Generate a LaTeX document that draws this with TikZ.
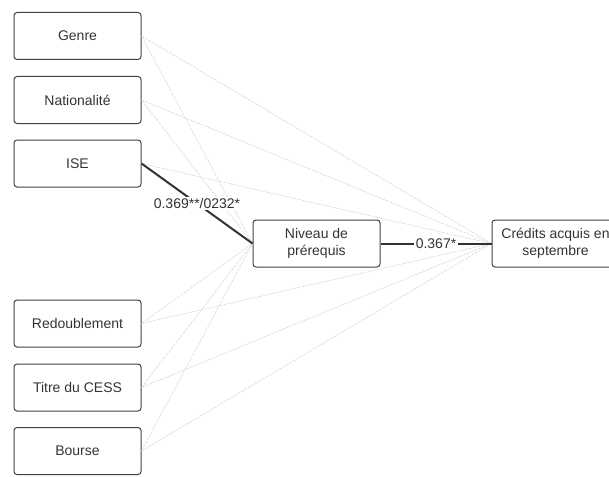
\documentclass[tikz,border=0pt]{standalone}
\usepackage{fontspec}
\setmainfont{Liberation Sans}
\usetikzlibrary{positioning}

\begin{document}
\begin{tikzpicture}[x=1pt,y=1pt,
    var/.style={draw=black!75, line width=1pt, rounded corners=3pt, minimum width=127pt, minimum height=47pt, inner sep=0pt, align=center, text=black!80, font=\fontsize{14}{16.5}\selectfont},
    faint/.style={gray!30, line width=.6pt, dash pattern=on 3pt off 1pt},
    link/.style={black!80, line width=2pt},
    coef/.style={fill=white, inner sep=1.5pt, text=black!80, font=\fontsize{14}{16.5}\selectfont}]

    \useasboundingbox (0,0) rectangle (609,-476);
    \clip (0,0) rectangle (609,-476);

    \node[var] (genre) at (77.5,-36) {Genre};
    \node[var] (nation) at (77.5,-100) {Nationalité};
    \node[var] (ise) at (77.5,-163.5) {ISE};
    \node[var] (redoub) at (77.5,-323.5) {Redoublement};
    \node[var] (titre) at (77.5,-387.5) {Titre du CESS};
    \node[var] (bourse) at (77.5,-451) {Bourse};

    \node[var] (niveau) at (316.5,-243.5) {Niveau de\\prérequis};
    \node[var] (credits) at (555.5,-243.5) {Crédits acquis en\\septembre};

    % non significant paths
    \foreach \v in {genre,nation,redoub,titre,bourse}
        \draw[faint] (\v.east) -- (niveau.west);
    \foreach \v in {genre,nation,ise,redoub,titre,bourse}
        \draw[faint] (\v.east) -- (credits.west);

    % significant paths
    \draw[link] (ise.east) -- node[coef] {0.369**/0232*} (niveau.west);
    \draw[link] (niveau) -- node[coef] {0.367*} (credits);

\end{tikzpicture}
\end{document}
